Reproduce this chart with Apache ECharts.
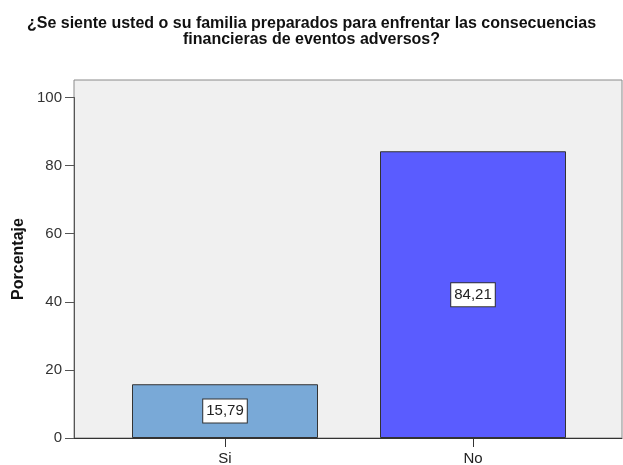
<!DOCTYPE html>
<html><head><meta charset="utf-8">
<script src="https://cdn.jsdelivr.net/npm/echarts@6/dist/echarts.min.js"></script>
<style>html,body{margin:0;padding:0;background:#fff}#c{width:623px;height:465px}</style>
</head><body><div id="c"></div>
<script>
const titleLines = ['¿Se siente usted o su familia preparados para enfrentar las consecuencias', 'financieras de eventos adversos?'];
const categories = ['Si', 'No'];
const values = [15.79, 84.21];
const barColors = ['#79a9d7', '#5a5cff'];
const yTicks = { min: 0, max: 100, interval: 20 };
const yName = 'Porcentaje';

const F = 'Arial, "Liberation Sans", sans-serif';
const chart = echarts.init(document.getElementById('c'), null, { renderer: 'canvas' });
chart.setOption({
  animation: false,
  title: {
    text: titleLines.join('\n'), left: 'center', top: 16, padding: 0,
    textStyle: { fontFamily: F, fontSize: 16, fontWeight: 'bold', color: '#111', lineHeight: 16 }
  },
  grid: [
    { left: 74, right: 1, top: 80, bottom: 27, show: true, backgroundColor: '#f0f0f0', borderColor: '#8a8a8a', borderWidth: 1, outerBoundsMode: 'none', containLabel: false },
    { left: 74, right: 1, top: 97.5, bottom: 27, outerBoundsMode: 'none', containLabel: false },
    { left: 101, right: 26, top: 97.5, bottom: 27, outerBoundsMode: 'none', containLabel: false }
  ],
  xAxis: [
    { gridIndex: 0, type: 'value', min: 0, max: 1, axisLabel: { show: false }, axisTick: { show: false }, splitLine: { show: false },
      axisLine: { show: true, lineStyle: { color: '#333', width: 1 } } },
    { gridIndex: 1, type: 'value', min: 0, max: 1, show: false },
    { gridIndex: 2, type: 'category', data: categories, boundaryGap: true,
      axisLine: { show: false },
      axisTick: { show: true, alignWithLabel: true, length: 9, lineStyle: { color: '#333' } },
      axisLabel: { margin: 13, fontFamily: F, fontSize: 15, color: '#222' } }
  ],
  yAxis: [
    { gridIndex: 0, type: 'value', min: 0, max: 1,
      name: yName, nameLocation: 'middle', nameGap: 47, nameRotate: 90,
      nameTextStyle: { fontFamily: F, fontSize: 16, fontWeight: 'bold', color: '#111' },
      axisLine: { show: false }, axisTick: { show: false }, axisLabel: { show: false }, splitLine: { show: false } },
    { gridIndex: 1, type: 'value', min: yTicks.min, max: yTicks.max, interval: yTicks.interval,
      axisLine: { show: true, lineStyle: { color: '#555', width: 1 } },
      axisTick: { show: true, length: 9, lineStyle: { color: '#555' } },
      axisLabel: { margin: 12, fontFamily: F, fontSize: 15, color: '#333' },
      splitLine: { show: false } },
    { gridIndex: 2, type: 'value', min: yTicks.min, max: yTicks.max, show: false }
  ],
  series: [{
    type: 'bar', xAxisIndex: 2, yAxisIndex: 2, barWidth: 186,
    data: values.map((v, i) => ({ value: v, itemStyle: { color: barColors[i], borderColor: '#333', borderWidth: 1 } })),
    label: {
      show: true, position: 'inside',
      formatter: p => p.value.toFixed(2).replace('.', ','),
      fontFamily: F, fontSize: 15, color: '#222',
      backgroundColor: '#fff', borderColor: '#333', borderWidth: 1, padding: [4, 3]
    }
  }]
});
</script></body></html>
